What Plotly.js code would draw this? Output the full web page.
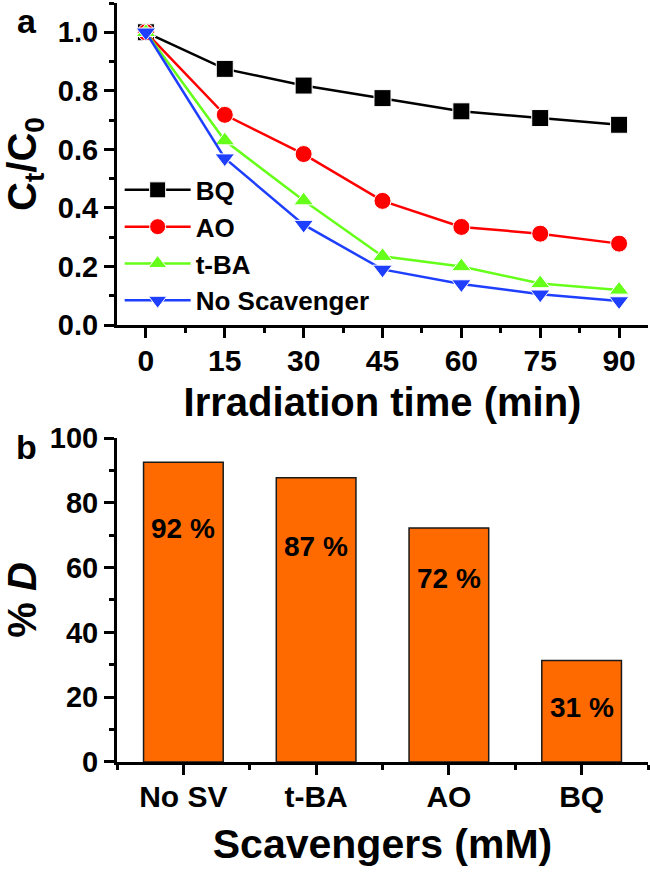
<!DOCTYPE html>
<html>
<head>
<meta charset="utf-8">
<script src="https://cdn.plot.ly/plotly-3.0.1.min.js"></script>
<style>
  html, body { margin: 0; padding: 0; background: #fff; }
  #myDiv { width: 650px; height: 879px; }
</style>
</head>
<body>
<div id="myDiv"></div>
<script>
// (a) Ct/C0 vs irradiation time for each scavenger
const timeMin = [0, 15, 30, 45, 60, 75, 90];
const bqRatio = [1.0, 0.875, 0.818, 0.775, 0.730, 0.707, 0.684];
const aoRatio = [1.0, 0.718, 0.584, 0.424, 0.335, 0.312, 0.278];
const tbaRatio = [1.0, 0.630, 0.425, 0.235, 0.200, 0.142, 0.120];
const noScavRatio = [1.0, 0.570, 0.343, 0.190, 0.140, 0.105, 0.082];

// (b) % degradation per scavenger
const scavengers = ['No SV', 't-BA', 'AO', 'BQ'];
const degradation = [92.5, 87.7, 72.2, 31.3];
const degradationLabels = ['92 %', '87 %', '72 %', '31 %'];

// where the % labels sit inside the bars (data units of y2)
const labelPosY = [72.2, 66.4, 56.5, 16.9];

const font = 'Liberation Sans, Arial, sans-serif';

function lineTrace(name, y, color, symbol) {
  return {
    x: timeMin,
    y: y,
    name: name,
    type: 'scatter',
    mode: 'lines+markers',
    xaxis: 'x',
    yaxis: 'y',
    line: { color: color, width: 2.5 },
    marker: { symbol: symbol, size: 17, color: color, line: { color: '#fff', width: 1 } }
  };
}

const traces = [
  lineTrace('BQ', bqRatio, '#000000', 'square'),
  lineTrace('AO', aoRatio, '#ff0000', 'circle'),
  lineTrace('t-BA', tbaRatio, '#66ff1a', 'triangle-up'),
  lineTrace('No Scavenger', noScavRatio, '#1f3fff', 'triangle-down'),
  {
    x: scavengers.map((_, i) => i),
    y: degradation,
    type: 'bar',
    xaxis: 'x2',
    yaxis: 'y2',
    width: 0.6,
    showlegend: false,
    marker: { color: '#ff6a00', line: { color: '#1a1a1a', width: 1.5 } },
    hoverinfo: 'y'
  }
];

const axisCommon = {
  showline: true,
  linecolor: '#000',
  linewidth: 3,
  ticks: 'outside',
  ticklen: 10,
  tickwidth: 3,
  tickcolor: '#000',
  showgrid: false,
  zeroline: false,
  tickfont: { family: font, size: 29, color: '#000', weight: 'bold' },
  minor: { ticks: 'outside', ticklen: 5, tickwidth: 3, tickcolor: '#000', showgrid: false }
};

const annotations = [
  { text: 'a', xref: 'paper', yref: 'paper', x: -0.17, y: 0.979, xanchor: 'center', yanchor: 'middle',
    showarrow: false, font: { family: font, size: 34, color: '#000', weight: 'bold' } },
  { text: 'b', xref: 'paper', yref: 'paper', x: -0.17, y: 0.493, xanchor: 'center', yanchor: 'middle',
    showarrow: false, font: { family: font, size: 34, color: '#000', weight: 'bold' } }
];
degradationLabels.forEach((t, i) => {
  annotations.push({
    text: t, xref: 'x2', yref: 'y2', x: i, y: labelPosY[i],
    showarrow: false, font: { family: font, size: 28, color: '#000', weight: 'bold' }
  });
});

const layout = {
  width: 650,
  height: 879,
  margin: { l: 117, r: 2, t: 3, b: 0 },
  paper_bgcolor: '#fff',
  plot_bgcolor: '#fff',
  showlegend: true,
  legend: {
    x: 0.005, y: 0.8134, xanchor: 'left', yanchor: 'top',
    bgcolor: 'rgba(0,0,0,0)',
    itemwidth: 66,
    tracegroupgap: 0,
    font: { family: font, size: 26, color: '#000', weight: 'bold' }
  },
  xaxis: Object.assign({}, axisCommon, {
    domain: [0, 1],
    anchor: 'y',
    range: [-5.5, 95.5],
    tickmode: 'linear', tick0: 0, dtick: 15,
    ticklabelstandoff: -3,
    tickfont: { family: font, size: 30, color: '#000', weight: 'bold' },
    minor: Object.assign({}, axisCommon.minor, { dtick: 7.5, tick0: 0 }),
    title: { text: 'Irradiation time (min)', standoff: 12,
             font: { family: font, size: 40, color: '#000', weight: 'bold' } }
  }),
  yaxis: Object.assign({}, axisCommon, {
    domain: [0.6324, 1],
    anchor: 'x',
    range: [0, 1.1],
    tickmode: 'linear', tick0: 0, dtick: 0.2,
    tickformat: '.1f',
    minor: Object.assign({}, axisCommon.minor, { dtick: 0.1, tick0: 0 }),
    title: { text: 'C<sub>t</sub>/C<sub>0</sub>', standoff: 12,
             font: { family: font, size: 40, color: '#000', weight: 'bold' } }
  }),
  xaxis2: Object.assign({}, axisCommon, {
    domain: [0, 1],
    anchor: 'y2',
    range: [-0.5, 3.5],
    tickmode: 'array',
    tickvals: scavengers.map((_, i) => i),
    ticktext: scavengers,
    ticklabelstandoff: -4,
    tickfont: { family: font, size: 30, color: '#000', weight: 'bold' },
    minor: Object.assign({}, axisCommon.minor, { tickvals: [-0.5, 0.5, 1.5, 2.5, 3.5] }),
    title: { text: 'Scavengers (mM)', standoff: 18,
             font: { family: font, size: 41, color: '#000', weight: 'bold' } }
  }),
  yaxis2: Object.assign({}, axisCommon, {
    domain: [0.1336, 0.5034],
    anchor: 'x2',
    range: [0, 100],
    tickmode: 'linear', tick0: 0, dtick: 20,
    minor: Object.assign({}, axisCommon.minor, { dtick: 10, tick0: 0 }),
    title: { text: '% <i>D</i>', standoff: 12,
             font: { family: font, size: 40, color: '#000', weight: 'bold' } }
  }),
  annotations: annotations
};

Plotly.newPlot('myDiv', traces, layout, { displayModeBar: false, responsive: false });
</script>
</body>
</html>
